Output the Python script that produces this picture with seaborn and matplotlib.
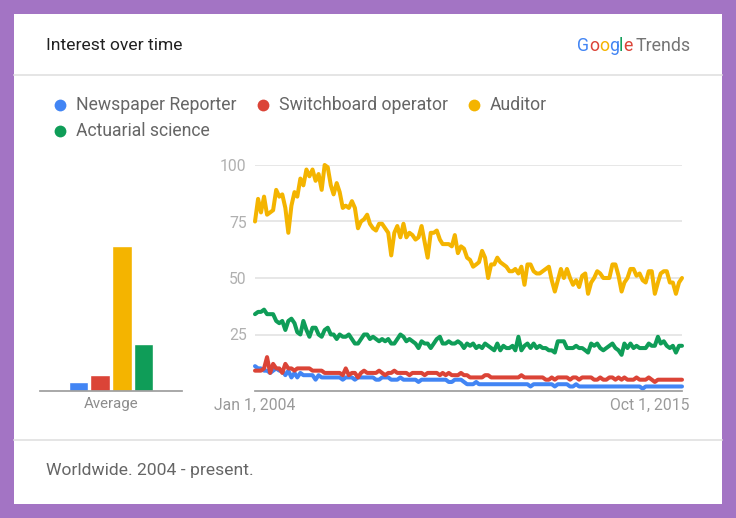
import pandas as pd
import seaborn as sns
import matplotlib.pyplot as plt
from matplotlib.patches import Rectangle
from matplotlib.lines import Line2D
from matplotlib.transforms import ScaledTranslation

W, H = 736, 518

terms = ["Newspaper Reporter", "Switchboard operator", "Auditor", "Actuarial science"]
colors = ["#4285f4", "#db4437", "#f4b400", "#0f9d58"]
averages = [4, 7, 64, 21]

# monthly interest, Jan 2004 - Oct 2015
reporter = [11, 10, 10, 9, 9, 8, 9, 10, 9, 9,
            7, 9, 6, 8, 6, 8, 7, 7, 7, 7,
            5, 7, 6, 6, 6, 6, 6, 6, 6, 5,
            6, 6, 6, 5, 6, 6,
            6, 6, 6, 6, 5, 5, 6, 6, 6, 5, 5, 5, 6, 5,
            5, 5, 5, 5, 4, 5, 5, 5, 5, 5, 5, 5, 5, 5, 4, 4, 5, 5,
            5, 4, 3, 3, 3, 4, 3, 3, 3, 3, 3, 3, 3, 3, 3, 3, 3, 3, 3, 3,
            3, 3, 3, 2, 3, 3, 3, 3, 3, 3, 3, 2, 3,
            3, 3, 3, 2, 2, 3, 2, 2, 2, 2, 2, 2, 2, 2, 2, 2, 2, 2, 2, 2,
            2, 2, 2, 2, 2, 2, 2, 1, 2, 2, 2, 2, 2, 2, 2, 2, 2, 2, 2, 2, 2]

switchboard = [9, 9, 9, 10, 15, 8, 12, 10, 10, 8,
               12, 10, 10, 9, 10, 10, 10, 10, 10, 9,
               9, 9, 9, 8, 8, 8, 8, 8, 8, 7,
               10, 7, 8, 8, 6, 8,
               9, 8, 8, 8, 8, 9, 8, 7, 8, 8, 9, 8, 8, 8,
               8, 7, 8, 8, 8, 8, 7, 8, 8, 8, 8, 7, 8, 7, 8, 7, 7, 7,
               8, 7, 7, 6, 6, 6, 6, 6, 7, 7, 6, 6, 6, 6, 6, 6, 6, 6, 6, 6,
               7, 6, 6, 6, 6, 6, 6, 6, 5, 5, 6, 5, 6,
               6, 6, 6, 5, 6, 6, 5, 6, 6, 6, 6, 5, 5, 6, 5, 5, 6, 6, 5, 6,
               5, 6, 5, 5, 5, 6, 5, 5, 5, 6, 5, 4, 5, 5, 5, 5, 5, 5, 5, 5, 5]

auditor = [75, 85, 79, 86, 78, 79, 80, 89, 86, 87,
           81, 70, 82, 88, 86, 94, 91, 98, 95, 98,
           93, 96, 89, 100, 99, 91, 87, 92, 88, 81,
           82, 81, 84, 81, 72, 75, 76, 78, 74, 72,
           71, 74, 74, 72, 70, 60, 70, 73, 68, 74,
           68, 70, 69, 67, 68, 73, 66, 59, 70, 70,
           71, 67, 65, 65, 65, 64, 69,
           61, 64, 63, 59, 58, 55, 56, 57, 62, 59,
           50, 56, 56, 59, 57, 56, 55, 53, 53, 54,
           52, 55, 47, 56, 56, 53, 52, 52, 53, 54,
           55, 49, 44, 49, 54, 50, 54, 50, 47, 49,
           46, 51, 52, 43, 48, 50, 53, 52, 50, 50,
           50, 56, 56, 51, 44, 48, 50, 54, 54, 51,
           52, 49, 48, 53, 53, 43, 48, 52, 53, 53,
           48, 48, 43, 48, 50]

actuarial = [34, 35, 35, 36, 34, 34, 34, 31, 30, 31,
             27, 31, 32, 30, 26, 25, 31, 27, 24, 28,
             28, 25, 24, 27, 28, 25, 25, 23, 25, 24,
             24, 25, 23, 21, 21, 23, 25, 25, 23, 24,
             23, 22, 23, 22, 23, 21, 21, 23, 25, 24,
             22, 23, 22, 21, 19, 22, 21, 21, 19, 21,
             23, 24, 21, 21, 22, 21, 21,
             22, 21, 19, 21, 20, 21, 19, 20, 19, 21,
             20, 19, 18, 21, 18, 20, 19, 19, 20, 18,
             24,
             18, 20, 21, 19, 21, 19, 20, 19, 19, 18, 18,
             17,
             22, 22, 22, 19, 19, 19, 20, 19, 19, 18,
             17,
             21, 20, 21, 19, 18, 19, 20, 21, 19, 18,
             16,
             21, 19, 21, 19, 20, 19, 19, 19, 21, 20, 20,
             24,
             21, 22, 20, 19, 20, 17, 20, 20]

months = pd.date_range("2004-01-01", periods=len(auditor), freq="MS")

df = pd.DataFrame({"date": months,
                   terms[0]: reporter, terms[1]: switchboard,
                   terms[2]: auditor, terms[3]: actuarial})
long = df.melt(id_vars="date", var_name="term", value_name="interest")


def box(l, t, r, b):
    # pixel box -> figure fraction
    return [l / W, 1 - b / H, (r - l) / W, (b - t) / H]


sns.set_theme(style="white")
plt.rcParams["font.family"] = ["Roboto", "DejaVu Sans"]

fig = plt.figure(figsize=(W / 100, H / 100), dpi=100, facecolor="#a374c4")
fig.patches.append(Rectangle((14 / W, 1 - 504 / H), 708 / W, 490 / H,
                             transform=fig.transFigure, facecolor="white",
                             edgecolor="none", zorder=-5))
for yy in (75, 440):
    fig.add_artist(Line2D([14 / W, 722 / W], [1 - yy / H] * 2, color="#e3e3e3",
                          lw=1.3, zorder=-4))

# header / footer
fig.text(46 / W, 1 - 45 / H, "Interest over time", fontsize=12.6, color="#212121", va="center")
fig.text(46 / W, 1 - 471 / H, "Worldwide. 2004 - present.", fontsize=12.6, color="#666666", va="center")

# google trends logo, letter by letter
renderer = fig.canvas.get_renderer()
x = 577
for ch, c in zip("Google", ["#4285f4", "#db4437", "#f4b400", "#4285f4", "#0f9d58", "#db4437"]):
    t = fig.text(x / W, 1 - 46 / H, ch, fontsize=12.8, color=c, va="center")
    x += t.get_window_extent(renderer).width
fig.text((x + 3) / W, 1 - 46 / H, "Trends", fontsize=12.8, color="#757575", va="center")

# legend
legend_pos = [(60, 105), (263, 105), (474, 105), (60, 131)]
for (lx, ly), name, c in zip(legend_pos, terms, colors):
    fig.add_artist(Line2D([lx / W], [1 - ly / H], marker="o", markersize=8.5,
                          color=c, markeredgewidth=0))
    fig.text((lx + 16) / W, 1 - ly / H, name, fontsize=12.7, color="#666666", va="center")

# average bars
axb = fig.add_axes(box(40, 165, 182, 391))
axb.patch.set_alpha(0)
sns.barplot(x=["Average"] * 4, y=averages, hue=terms, hue_order=terms,
            palette=colors, width=0.61, gap=0.1, saturation=1,
            legend=False, ax=axb)
axb.set_ylim(0, 100)
axb.set_yticks([])
axb.set_ylabel("")
sns.despine(ax=axb, left=True)
axb.spines["bottom"].set_color("#9e9e9e")
axb.tick_params(axis="x", length=0, pad=4, labelsize=10.8, labelcolor="#8c8c8c")

# time series
ax = fig.add_axes(box(255, 165, 682, 391))
ax.patch.set_alpha(0)
sns.lineplot(data=long, x="date", y="interest", hue="term", hue_order=terms,
             palette=colors, linewidth=2.9, legend=False, ax=ax)
for ln in ax.lines:
    ln.set_clip_on(False)
    ln.set_solid_joinstyle("round")
ax.set_ylim(0, 100)
ax.set_xlim(months[0], months[-1])
ax.set_yticks([25, 50, 75, 100])
ax.yaxis.grid(True, color="#e3e3e3", lw=1.2)
ax.set_axisbelow(True)
ax.set_xlabel("")
ax.set_ylabel("")
sns.despine(ax=ax, left=True)
ax.spines["bottom"].set_color("#9e9e9e")
ax.tick_params(axis="y", length=0, pad=6, labelsize=11.3, labelcolor="#b0b0b0")
ax.set_xticks([months[0], months[-1]])
ax.set_xticklabels(["Jan 1, 2004", "Oct 1, 2015"])
ax.tick_params(axis="x", length=0, pad=5, labelsize=11.3, labelcolor="#9a9a9a")
last = ax.get_xticklabels()[-1]
last.set_ha("right")
last.set_transform(last.get_transform() + ScaledTranslation(7 / 100, 0, fig.dpi_scale_trans))

fig.savefig("out.png", dpi=100, facecolor=fig.get_facecolor())
